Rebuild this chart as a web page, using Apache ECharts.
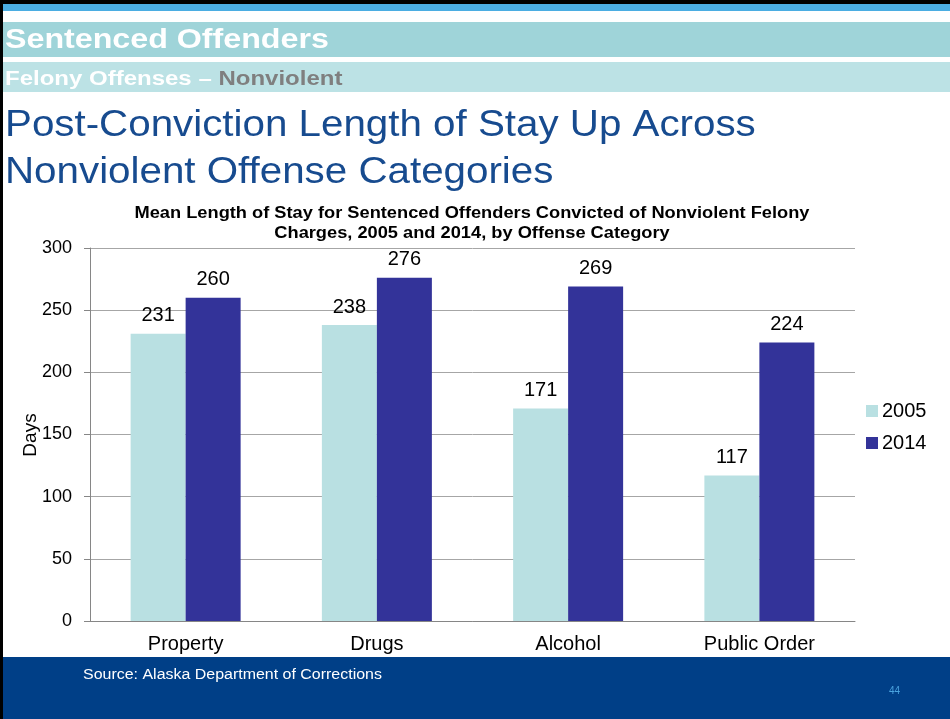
<!DOCTYPE html>
<html>
<head>
<meta charset="utf-8">
<script src="https://cdn.jsdelivr.net/npm/echarts@6/dist/echarts.min.js"></script>
<style>
  html, body { margin: 0; padding: 0; background: #000; }
  #chart { width: 950px; height: 719px; }
</style>
</head>
<body>
<div id="chart"></div>
<script>
// data
var categories = ["Property", "Drugs", "Alcohol", "Public Order"];
var years = ["2005", "2014"];
var stay2005 = [231, 238, 171, 117];
var stay2014 = [260, 276, 269, 224];
var yTicks = [0, 50, 100, 150, 200, 250, 300];

var font = "'Liberation Sans', Arial, sans-serif";
var mychart = echarts.init(document.getElementById("chart"));

// the slide text is a bit wider than plain Arial, so stretch it a little
function slideText(x, y, text, fill, css, sx, align) {
  return {
    type: "text", x: x, y: y, scaleX: sx,
    style: { x: 0, y: 0, text: text, fill: fill, font: css, align: align || "left", verticalAlign: "middle" }
  };
}

mychart.setOption({
  backgroundColor: "#000",
  textStyle: { fontFamily: font },
  animation: false,
  graphic: [
    // slide background and bands
    { type: "rect", shape: { x: 3, y: 4, width: 947, height: 715 }, style: { fill: "#fff" }, z: -10 },
    { type: "rect", shape: { x: 3, y: 4, width: 947, height: 7 }, style: { fill: "#4badE2" }, z: -9 },
    { type: "rect", shape: { x: 3, y: 22, width: 947, height: 35 }, style: { fill: "#9fd4d9" }, z: -9 },
    { type: "rect", shape: { x: 3, y: 62, width: 947, height: 30 }, style: { fill: "#bce2e5" }, z: -9 },
    { type: "rect", shape: { x: 3, y: 657, width: 947, height: 62 }, style: { fill: "#003f87" }, z: -9 },
    slideText(5, 40, "Sentenced Offenders", "#fff", "bold 28px " + font, 1.15),
    {
      type: "text", x: 5, y: 79, scaleX: 1.2,
      style: {
        x: 0, y: 0, verticalAlign: "middle",
        text: "{w|Felony Offenses \u2013 }{g|Nonviolent}",
        rich: {
          w: { fill: "#fff", fontSize: 20, fontWeight: "bold", fontFamily: font },
          g: { fill: "#7f7f7f", fontSize: 20, fontWeight: "bold", fontFamily: font }
        }
      }
    },
    slideText(5, 126, "Post-Conviction Length of Stay Up Across", "#174b8f", "36px " + font, 1.12),
    slideText(5, 173, "Nonviolent Offense Categories", "#174b8f", "36px " + font, 1.12),
    // chart title
    slideText(472, 214, "Mean Length of Stay for Sentenced Offenders Convicted of Nonviolent Felony", "#000", "bold 16px " + font, 1.14, "center"),
    slideText(472, 234, "Charges, 2005 and 2014, by Offense Category", "#000", "bold 16px " + font, 1.14, "center"),
    // y axis title
    {
      type: "text", x: 31, y: 435, rotation: Math.PI / 2,
      style: { x: 0, y: 0, text: "Days", fill: "#000", font: "19px " + font, align: "center", verticalAlign: "middle" }
    },
    slideText(83, 675, "Source: Alaska Department of Corrections", "#fff", "14px " + font, 1.14),
    slideText(889, 691, "44", "#4aa3df", "10px " + font, 1)
  ],
  legend: {
    orient: "vertical",
    left: 861,
    top: 396,
    itemWidth: 12,
    itemHeight: 12,
    itemGap: 12,
    icon: "rect",
    textStyle: { fontSize: 20, color: "#000", fontFamily: font, padding: [0, 0, 0, -1] },
    data: years
  },
  grid: { left: 90, right: 95, top: 248, bottom: 98 },
  xAxis: {
    type: "category",
    data: categories,
    axisLine: { lineStyle: { color: "#868686" } },
    axisTick: { show: false },
    axisLabel: { fontSize: 20, color: "#000", margin: 13, fontFamily: font }
  },
  yAxis: {
    type: "value",
    min: yTicks[0],
    max: yTicks[yTicks.length - 1],
    interval: 50,
    axisLine: { show: true, lineStyle: { color: "#868686" } },
    axisTick: { show: true, length: 6, lineStyle: { color: "#868686" } },
    axisLabel: { fontSize: 18, color: "#000", margin: 18, fontFamily: font },
    splitLine: { lineStyle: { color: "#a6a6a6" } }
  },
  series: [
    {
      name: years[0],
      type: "bar",
      data: stay2005,
      barWidth: 55,
      barGap: "0%",
      itemStyle: { color: "#b9e0e2" },
      label: { show: true, position: "top", distance: 8, fontSize: 20, color: "#000", fontFamily: font }
    },
    {
      name: years[1],
      type: "bar",
      data: stay2014,
      barWidth: 55,
      barGap: "0%",
      itemStyle: { color: "#333399" },
      label: { show: true, position: "top", distance: 8, fontSize: 20, color: "#000", fontFamily: font }
    }
  ]
});
</script>
</body>
</html>
